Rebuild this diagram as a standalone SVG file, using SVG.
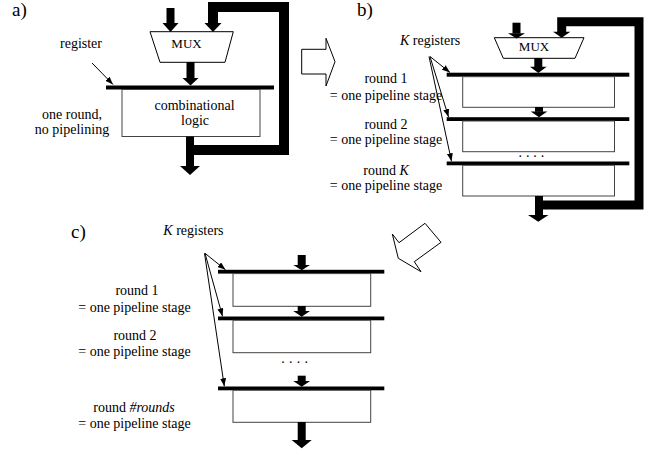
<svg xmlns="http://www.w3.org/2000/svg" width="654" height="452" viewBox="0 0 654 452">
<style>
text{font-family:'Liberation Serif','Times New Roman',Times,'DejaVu Serif','Noto Serif',serif;fill:#000;font-size:14px}
.lbl{font-size:19px}
.mux{font-size:13px}
.c{text-anchor:middle}
.reg{fill:#000}
.box{fill:#fff;stroke:#444;stroke-width:1}
.muxs{fill:#fff;stroke:#000;stroke-width:1}
.fb{fill:none;stroke:#000;stroke-linejoin:miter}
.bus{fill:#000}
.thin{stroke:#000;stroke-width:1;fill:none;marker-end:url(#ah)}
.big{fill:#fff;stroke:#000;stroke-width:1}
</style>
<defs>
<marker id="ah" markerUnits="userSpaceOnUse" markerWidth="9" markerHeight="7" refX="8" refY="3" orient="auto">
<path d="M0,0 L8,3 L0,6 z" fill="#000"/>
</marker>
</defs>

<rect width="654" height="452" fill="#fff"/>

<g font-family="Liberation Serif, Times New Roman, serif">
<!-- part labels -->
<text class="lbl" x="12" y="16">a)</text>
<text class="lbl" x="357" y="16">b)</text>
<text class="lbl" x="71" y="238">c)</text>

<!-- transition arrows -->
<g id="arrow-ab">
<polygon class="big" points="301.7,49.3 326,49.3 326,38.3 335,61.7 326,86 326,74 301.7,74"/>
</g>
<g id="arrow-bc">
<polygon class="big" points="425,223.3 441,242.3 414.3,261.7 421,271.7 398.3,258.3 392.3,234 399,242.7"/>
</g>

<!-- ========== part a ========== -->
<g id="a-mux">
<polygon class="muxs" points="150,31.7 233.3,31.7 225,62.3 160,62.3"/>
<text class="mux c" x="186.5" y="47.5">MUX</text>
</g>
<g id="a-register">
<rect class="reg" x="106" y="85.5" width="168" height="4"/>
</g>
<g id="a-logic">
<rect class="box" x="122" y="89.5" width="138" height="47"/>
<text class="c" x="194.5" y="109.5">combinational</text>
<text class="c" x="195" y="124.5">logic</text>
</g>
<text class="c" x="72" y="119">one round,</text>
<text class="c" x="72" y="134">no pipelining</text>
<text x="60" y="48">register</text>

<g id="a-connectors">
<rect class="bus" x="166.5" y="8" width="8" height="15"/>
<polygon class="bus" points="162.5,23 178.5,23 170.5,32"/>
<polyline class="fb" stroke-width="10" points="190,150 284,150 284,7 213,7 213,23"/>
<polygon class="bus" points="204.5,23 221.5,23 213,32"/>
<rect class="bus" x="186.5" y="62" width="8" height="16.5"/>
<polygon class="bus" points="182.5,78 198.5,78 190.5,85.5"/>
<rect class="bus" x="186" y="136.5" width="8" height="30"/>
<polygon class="bus" points="180,166 200,166 190,175"/>
<line class="thin" x1="92" y1="63" x2="113" y2="84.5"/>
</g>

<!-- ========== part b ========== -->
<g id="b-mux">
<polygon class="muxs" points="494.3,37.7 584,37.7 575,58.3 503.3,58.3"/>
<text class="mux c" x="534" y="51">MUX</text>
</g>
<g id="b-stage1">
<rect class="reg" x="446.7" y="72.7" width="182.6" height="4"/>
<rect class="box" x="462.7" y="76.7" width="151.8" height="30.6"/>
</g>
<g id="b-stage2">
<rect class="reg" x="446.7" y="117.2" width="182.6" height="3.8"/>
<rect class="box" x="462.7" y="121" width="151.8" height="30.7"/>
</g>
<g id="b-stageK">
<rect class="reg" x="446.7" y="161.5" width="182.6" height="3.8"/>
<rect class="box" x="462.7" y="165.3" width="151.8" height="30.7"/>
</g>
<text x="518.5" y="156.5" letter-spacing="3.9">....</text>
<text x="400" y="45"><tspan font-style="italic">K</tspan> registers</text>
<text class="c" x="386" y="83">round 1</text>
<text class="c" x="386" y="99.5">= one pipeline stage</text>
<text class="c" x="386" y="128.5">round 2</text>
<text class="c" x="386" y="144">= one pipeline stage</text>
<text class="c" x="386" y="175">round <tspan font-style="italic">K</tspan></text>
<text class="c" x="386" y="190">= one pipeline stage</text>

<g id="b-connectors">
<rect class="bus" x="512.5" y="22.7" width="8" height="10.8"/>
<polygon class="bus" points="508,33.3 525,33.3 516.5,38.5"/>
<polyline class="fb" stroke-width="9" points="539,205 639,205 639,21.7 561.7,21.7 561.7,32"/>
<polygon class="bus" points="553,31.7 570.4,31.7 561.7,37.7"/>
<rect class="bus" x="534.3" y="58" width="8" height="9"/>
<polygon class="bus" points="530,66.7 546.7,66.7 538.3,73"/>
<rect class="bus" x="535" y="107" width="8" height="4.8"/>
<polygon class="bus" points="530.7,111.5 547.3,111.5 539,117.3"/>
<rect class="bus" x="535" y="196" width="8" height="19.3"/>
<polygon class="bus" points="528,215 548.5,215 538.3,221.7"/>
<line class="thin" x1="430" y1="56.5" x2="450" y2="72.5"/>
<line class="thin" x1="430" y1="56.5" x2="448.5" y2="117"/>
<line class="thin" x1="429" y1="56.5" x2="451.5" y2="161.3"/>
</g>

<!-- ========== part c ========== -->
<g id="c-stage1">
<rect class="reg" x="218" y="269.8" width="166.3" height="3.8"/>
<rect class="box" x="233" y="273.6" width="137.7" height="32.7"/>
</g>
<g id="c-stage2">
<rect class="reg" x="218" y="316.5" width="166.3" height="3.8"/>
<rect class="box" x="233" y="320.3" width="137.7" height="32.4"/>
</g>
<g id="c-stageN">
<rect class="reg" x="218" y="386.5" width="166.3" height="3.8"/>
<rect class="box" x="233" y="390.3" width="137.7" height="32"/>
</g>
<text x="281.2" y="363" letter-spacing="4.3">....</text>
<text x="163.3" y="235"><tspan font-style="italic">K</tspan> registers</text>
<text class="c" x="137" y="294.5">round 1</text>
<text class="c" x="134.5" y="311.5">= one pipeline stage</text>
<text class="c" x="135" y="340">round 2</text>
<text class="c" x="134.5" y="356">= one pipeline stage</text>
<text class="c" x="134" y="411.5">round <tspan font-style="italic">#rounds</tspan></text>
<text class="c" x="134.5" y="428">= one pipeline stage</text>

<g id="c-connectors">
<rect class="bus" x="297.7" y="255" width="8" height="10.3"/>
<polygon class="bus" points="293.3,265 310,265 301.7,270.3"/>
<rect class="bus" x="297.7" y="306" width="8" height="5.3"/>
<polygon class="bus" points="293.3,311 310,311 301.7,316.7"/>
<rect class="bus" x="297.7" y="375.7" width="8" height="5.6"/>
<polygon class="bus" points="293.3,381 310,381 301.7,386.7"/>
<rect class="bus" x="297.7" y="422" width="8" height="18.3"/>
<polygon class="bus" points="291.7,440 311.7,440 301.7,448.3"/>
<line class="thin" x1="205" y1="253.3" x2="225.5" y2="269.8"/>
<line class="thin" x1="205" y1="253.3" x2="222.5" y2="316.3"/>
<line class="thin" x1="204.5" y1="253.3" x2="224.3" y2="386.3"/>
</g>
</g>
</svg>
